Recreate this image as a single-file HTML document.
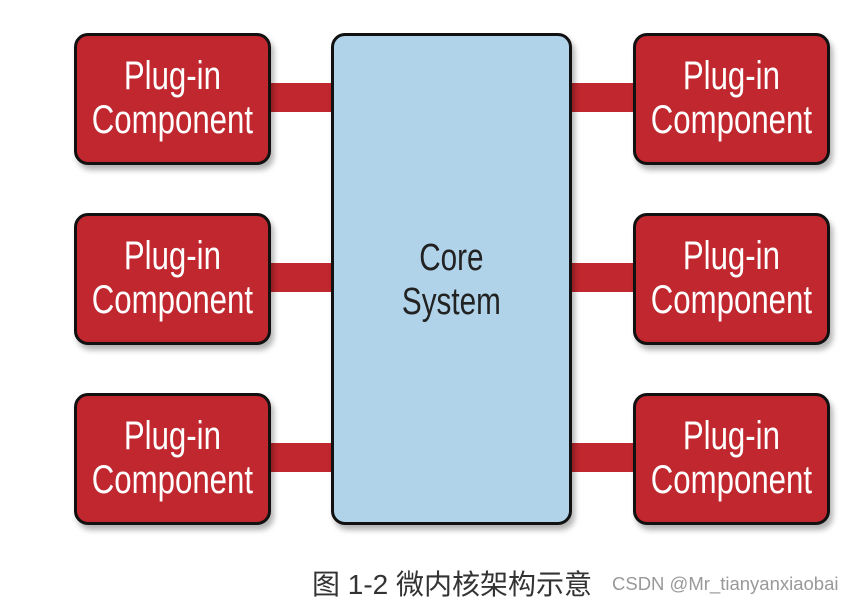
<!DOCTYPE html>
<html><head><meta charset="utf-8"><style>
body{margin:0;width:855px;height:606px;background:#fff;position:relative;overflow:hidden;font-family:"Liberation Sans",sans-serif}
.b{position:absolute;box-sizing:border-box;border:3px solid #111;border-radius:14px;box-shadow:3px 5px 6px rgba(0,0,0,0.3)}
.p{background:#c1272e;width:197px;height:132px;color:#fff}
.c{position:absolute;height:29px;background:#c1272e}
.t{position:absolute;left:-60px;right:-60px;text-align:center;font-size:40px;line-height:44px;white-space:nowrap}
.t span{display:inline-block;transform:scaleX(0.78)}
</style></head><body>
<div class="c" style="left:268px;top:83px;width:66px"></div>
<div class="c" style="left:268px;top:263px;width:66px"></div>
<div class="c" style="left:268px;top:443px;width:66px"></div>
<div class="c" style="left:569px;top:83px;width:67px"></div>
<div class="c" style="left:569px;top:263px;width:67px"></div>
<div class="c" style="left:569px;top:443px;width:67px"></div>
<div class="b" style="left:331px;top:33px;width:241px;height:492px;background:#b0d3ea"><div class="t" style="top:200px;color:#222;font-size:38px"><span>Core<br>System</span></div></div>
<div class="b p" style="left:74px;top:33px"><div class="t" style="top:18px"><span>Plug-in<br>Component</span></div></div>
<div class="b p" style="left:74px;top:213px"><div class="t" style="top:18px"><span>Plug-in<br>Component</span></div></div>
<div class="b p" style="left:74px;top:393px"><div class="t" style="top:18px"><span>Plug-in<br>Component</span></div></div>
<div class="b p" style="left:633px;top:33px"><div class="t" style="top:18px"><span>Plug-in<br>Component</span></div></div>
<div class="b p" style="left:633px;top:213px"><div class="t" style="top:18px"><span>Plug-in<br>Component</span></div></div>
<div class="b p" style="left:633px;top:393px"><div class="t" style="top:18px"><span>Plug-in<br>Component</span></div></div>
<div style="position:absolute;left:312px;top:563px;font-size:28px;color:#333;font-family:'Liberation Sans','Noto Sans CJK SC',sans-serif;white-space:nowrap">图 1-2 微内核架构示意</div>
<div style="position:absolute;left:612px;top:573px;font-size:18.5px;color:#999;white-space:nowrap">CSDN @Mr_tianyanxiaobai</div>
</body></html>
